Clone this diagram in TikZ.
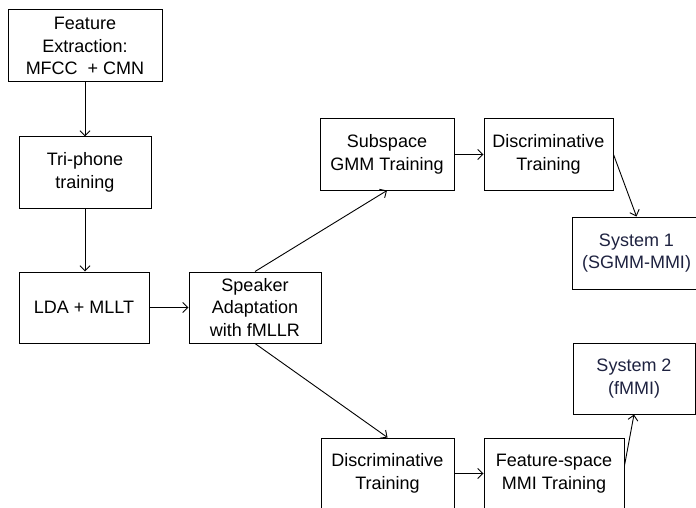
\documentclass[tikz,border=0pt]{standalone}
\usepackage{fontspec}
\setmainfont{Liberation Sans}
\usepackage{tikz}
\usetikzlibrary{arrows.meta}
\definecolor{mysystemcolor}{HTML}{1E2240}
\tikzset{procbox/.style={draw, rectangle, line width=0.5pt, align=center, inner sep=1pt, minimum height=35.5pt, font=\fontsize{9.0pt}{11.25pt}\selectfont},
  flowarrow/.style={-{Straight Barb[length=2.6pt,width=5pt]}, line width=0.45pt}}

\begin{document}
\begin{tikzpicture}[x=0.5pt, y=-0.5pt]%
\clip (0, 0) rectangle (696, 508);%
\node[procbox, minimum width=77pt, minimum height=36pt] (feat) at (85, 46) {Feature\\ Extraction:\\ MFCC\ \ + CMN};%
\node[procbox, minimum width=66pt] (tri) at (85, 172.5) {Tri-phone\\ training};%
\node[procbox, minimum width=65pt] (lda) at (84, 307.5) {LDA + MLLT};%
\node[procbox, minimum width=66pt] (spk) at (255, 307.5) {Speaker\\ Adaptation\\ with fMLLR};%
\node[procbox, minimum width=67pt] (sgmm) at (387, 154.5) {Subspace\\ GMM Training};%
\node[procbox, minimum width=64.5pt] (disc1) at (548.5, 154.5) {Discriminative\\ Training};%
\node[procbox, minimum width=64.5pt, minimum height=36pt, text=mysystemcolor] (sys1) at (636.5, 253) {System 1\\ (SGMM-MMI)};%
\node[procbox, minimum width=61pt, text=mysystemcolor] (sys2) at (634, 378.5) {System 2\\ (fMMI)};%
\node[procbox, minimum width=66.5pt] (disc2) at (387.5, 473.5) {Discriminative\\ Training};%
\node[procbox, minimum width=70pt] (fmmi) at (554, 473.5) {Feature-space\\ MMI Training};%
\draw[flowarrow] (feat.south) -- (tri.north);%
\draw[flowarrow] (tri.south) -- (tri.south |- lda.north);%
\draw[flowarrow] (lda.east) -- (spk.west);%
\draw[flowarrow] (spk.north) -- (sgmm.south);%
\draw[flowarrow] (spk.south) -- (disc2.north);%
\draw[flowarrow] (sgmm.east) -- (disc1.west);%
\draw[flowarrow] (disc1.east) -- (sys1.north);%
\draw[flowarrow] ([yshift=4pt]fmmi.east) -- (sys2.south);%
\draw[flowarrow] (disc2.east) -- (fmmi.west);%
\end{tikzpicture}
\end{document}
